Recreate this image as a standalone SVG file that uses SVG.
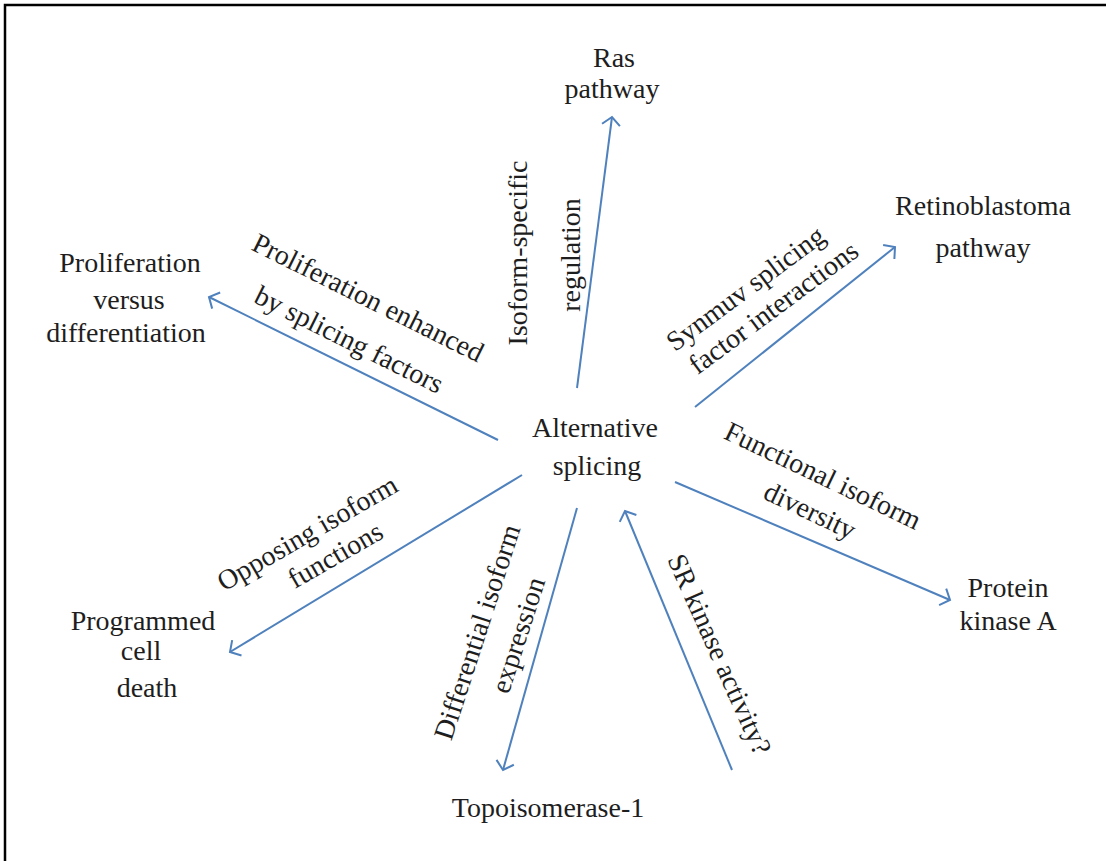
<svg xmlns="http://www.w3.org/2000/svg" width="1106" height="861" viewBox="0 0 1106 861">
<style>
text{font-family:"Liberation Serif","Times New Roman",serif;font-size:28px;fill:#1e1e1e;text-anchor:middle}
.c{stroke:#4F81BD;stroke-width:2;fill:none;marker-end:url(#ah)}
</style>
<defs>
<marker id="ah" markerUnits="userSpaceOnUse" viewBox="-12 -12 14 24" markerWidth="14" markerHeight="24" refX="0" refY="0" orient="auto">
<path d="M-8,-9 L0,0 L-8,9" fill="none" stroke="#4F81BD" stroke-width="2"/>
</marker>
</defs>
<rect width="1106" height="861" fill="#fff"/>
<path d="M5,861 V5 H1106" fill="none" stroke="#000" stroke-width="2.5"/>
<g id="connectors">
<line class="c" x1="577" y1="388" x2="612" y2="117"/>
<line class="c" x1="498" y1="440" x2="209" y2="297"/>
<line class="c" x1="695" y1="407" x2="895" y2="247"/>
<line class="c" x1="675" y1="482" x2="950" y2="600"/>
<line class="c" x1="522" y1="475" x2="230" y2="652"/>
<line class="c" x1="577" y1="508" x2="503" y2="770"/>
<line class="c" x1="732" y1="770" x2="625" y2="511"/>
</g>
<g id="edge-labels">
<g transform="translate(364,306) rotate(26.5)"><text>Proliferation enhanced</text></g>
<g transform="translate(345,348) rotate(26.5)"><text>by splicing factors</text></g>
<g transform="translate(527,253) rotate(-90)"><text>Isoform-specific</text></g>
<g transform="translate(580,255) rotate(-90)"><text>regulation</text></g>
<g transform="translate(751,296) rotate(-36.5)"><text>Synmuv splicing</text></g>
<g transform="translate(779,315) rotate(-36.5)"><text>factor interactions</text></g>
<g transform="translate(819,484) rotate(25.5)"><text>Functional isoform</text></g>
<g transform="translate(806,519) rotate(25.5)"><text>diversity</text></g>
<g transform="translate(312,541) rotate(-30)"><text>Opposing isoform</text></g>
<g transform="translate(340,563) rotate(-30)"><text>functions</text></g>
<g transform="translate(486,635) rotate(-72)"><text>Differential isoform</text></g>
<g transform="translate(527,638) rotate(-72)"><text>expression</text></g>
<g transform="translate(711,658) rotate(66)"><text>SR kinase activity?</text></g>
</g>
<g id="node-center"><text x="595" y="437">Alternative</text><text x="597" y="475">splicing</text></g>
<g id="node-ras"><text x="614" y="67">Ras</text><text x="612" y="98">pathway</text></g>
<g id="node-rb"><text x="983" y="215">Retinoblastoma</text><text x="983" y="257">pathway</text></g>
<g id="node-prolif"><text x="130" y="272">Proliferation</text><text x="129" y="309">versus</text><text x="126" y="342">differentiation</text></g>
<g id="node-pka"><text x="1008" y="597">Protein</text><text x="1008" y="630">kinase A</text></g>
<g id="node-pcd"><text x="143" y="630">Programmed</text><text x="141" y="660">cell</text><text x="147" y="697">death</text></g>
<g id="node-topo"><text x="548" y="817">Topoisomerase-1</text></g>
</svg>
